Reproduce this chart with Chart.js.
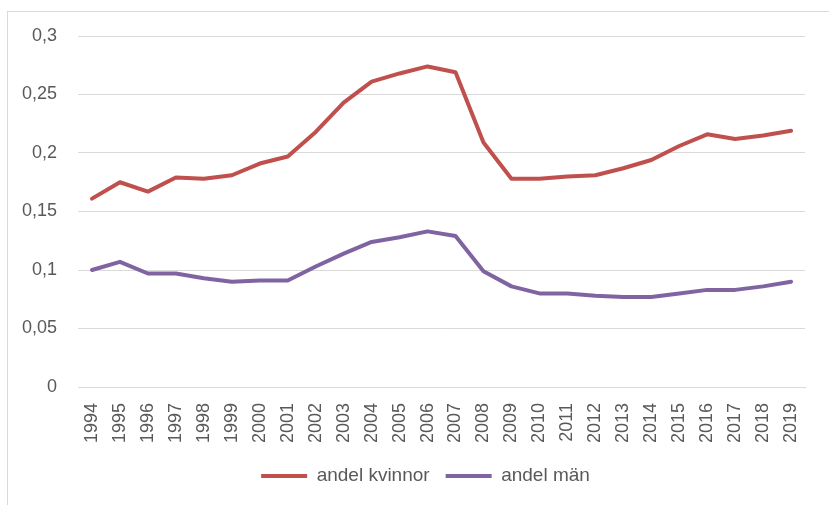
<!DOCTYPE html>
<html>
<head>
<meta charset="utf-8">
<script src="https://cdn.jsdelivr.net/npm/chart.js@4.4.1/dist/chart.umd.min.js"></script>
<style>
  html, body { margin: 0; padding: 0; background: #ffffff; }
  #wrap { position: relative; width: 829px; height: 505px; overflow: hidden; }
  #frame { position: absolute; left: 7px; top: 11px; width: 830px; height: 500px;
           border-left: 1px solid #D9D9D9; border-top: 1px solid #D9D9D9; pointer-events: none; }
  canvas { position: absolute; left: 0; top: 0; }
</style>
</head>
<body>
<div id="wrap">
  <canvas id="c" width="829" height="505"></canvas>
  <div id="frame"></div>
</div>
<script>
const years = ["1994","1995","1996","1997","1998","1999","2000","2001","2002","2003","2004","2005","2006",
               "2007","2008","2009","2010","2011","2012","2013","2014","2015","2016","2017","2018","2019"];
const andelKvinnor = [0.161,0.175,0.167,0.179,0.178,0.181,0.191,0.197,0.218,0.243,0.261,0.268,0.274,
                      0.269,0.209,0.178,0.178,0.180,0.181,0.187,0.194,0.206,0.216,0.212,0.215,0.219];
const andelMan = [0.100,0.107,0.097,0.097,0.093,0.090,0.091,0.091,0.103,0.114,0.124,0.128,0.133,
                  0.129,0.099,0.086,0.080,0.080,0.078,0.077,0.077,0.080,0.083,0.083,0.086,0.090];
const yTickValues = [0, 0.05, 0.1, 0.15, 0.2, 0.25, 0.3];
const yTickLabels = ["0", "0,05", "0,1", "0,15", "0,2", "0,25", "0,3"];
const seriesNames = ["andel kvinnor", "andel män"];

Chart.defaults.font.family = "'Liberation Sans', Arial, sans-serif";
Chart.defaults.font.size = 18;
Chart.defaults.color = "#595959";

const legendShift = {
  id: "legendShift",
  afterLayout(chart) {
    if (chart.legend) { chart.legend.left += 19; chart.legend.right += 19; }
  }
};

new Chart(document.getElementById("c"), {
  type: "line",
  data: {
    labels: years,
    datasets: [
      { label: seriesNames[0], data: andelKvinnor, borderColor: "#C0504D", backgroundColor: "#C0504D",
        borderWidth: 4, pointRadius: 0, tension: 0, borderCapStyle: "round", borderJoinStyle: "round" },
      { label: seriesNames[1], data: andelMan, borderColor: "#8064A2", backgroundColor: "#8064A2",
        borderWidth: 4, pointRadius: 0, tension: 0, borderCapStyle: "round", borderJoinStyle: "round" }
    ]
  },
  plugins: [legendShift],
  options: {
    responsive: false,
    animation: false,
    layout: { padding: { left: 0, right: 16, top: 36, bottom: 9.5 } },
    plugins: {
      tooltip: { enabled: false },
      legend: {
        position: "bottom",
        labels: {
          usePointStyle: true,
          pointStyle: "line",
          pointStyleWidth: 46,
          padding: 16,
          color: "#595959",
          font: { size: 19 }
        }
      }
    },
    scales: {
      x: {
        offset: true,
        grid: { display: false, drawTicks: false },
        border: { display: true, color: "#D9D9D9", width: 1 },
        ticks: { minRotation: 90, maxRotation: 90, padding: 16, autoSkip: false, color: "#595959" },
        afterFit: (s) => { s.height = 63.5; }
      },
      y: {
        min: 0, max: 0.3,
        afterBuildTicks: (s) => { s.ticks = yTickValues.map(v => ({ value: v })); },
        grid: { color: "#D9D9D9", lineWidth: 1, drawTicks: false },
        border: { display: false },
        ticks: {
          padding: 21,
          color: "#595959",
          callback: (v) => { const i = yTickValues.findIndex(t => Math.abs(t - v) < 1e-9); return i >= 0 ? yTickLabels[i] : ""; }
        },
        afterFit: (s) => { s.width = 78; }
      }
    }
  }
});
</script>
</body>
</html>
